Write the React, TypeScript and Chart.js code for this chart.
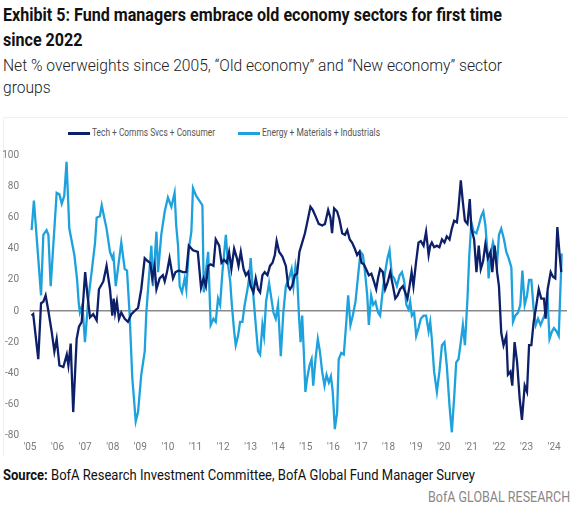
import React, { useEffect, useLayoutEffect, useRef } from "react";
import { Chart, registerables } from "chart.js";

Chart.register(...registerables);

// Months since Jan 2005 and net % overweight values
const darkMonths = [
  0.7, 1.4, 3.6, 4.8, 5.8, 6.8, 8, 9.4, 10.6, 11.6, 12.8, 14.5, 16, 16.7, 17.7, 18.8, 20.3, 21.3, 22.5, 24,
  25, 26.1, 27.5, 29, 30, 31.9, 33.3, 34.8, 35.8, 36.4, 37, 37.8, 38.7, 39.7, 41.2, 42.6, 44.1, 45.5, 47, 48.4,
  49.9, 51.3, 52.3, 53.2, 54.2, 55, 56.4, 57.8, 58.6, 59.6, 60.7, 62.2, 63.3, 64.8, 66.5, 68, 69.1, 70.9, 73, 74.4,
  75.5, 76.5, 77.5, 78.6, 79.8, 80.8, 82.3, 83.3, 84.4, 85.6, 86.6, 87.6, 88.8, 90, 90.7, 91.7, 92.9, 93.9, 94.9, 96,
  97.2, 98.2, 99.2, 100.1, 101.1, 102.1, 103.3, 104.4, 105.5, 106.5, 107.3, 108.4, 109.8, 111.3, 112.3, 113.1, 114, 115.2, 116.2, 117.2,
  118.4, 119.6, 120.6, 122, 123, 124.2, 125.6, 127.1, 128.3, 129.7, 130.7, 131.4, 132.3, 133.6, 134.6, 135.8, 137, 138, 139.1, 140.1,
  141.3, 142.3, 143.3, 144.2, 145.2, 146.2, 147.4, 148.5, 149.6, 150.6, 151.4, 152.3, 153.5, 154.5, 155.5, 156.7, 157.9, 158.9, 159.9, 161,
  162.2, 163.2, 164.2, 165.1, 166, 166.8, 167.9, 169, 170, 171.2, 172.3, 173.4, 174.1, 174.8, 175.8, 177, 178.1, 179.2, 180.3, 181.3,
  182.5, 183.5, 184.5, 185.7, 186.4, 187.4, 188.3, 189.2, 190.3, 191.3, 192, 193.2, 194.2, 195.2, 196.1, 197.1, 198.1, 199.2, 200.3, 201.1,
  202.1, 203.2, 204, 205, 206, 207.2, 207.9, 209, 209.8, 210.8, 211.9, 213, 214, 215.2, 216.2, 217.1, 218.1, 219.1, 220.3, 221.3,
  222.4, 223.6, 224.3, 225.2, 226.5, 227.5, 228.5, 229.4, 230.4, 231.1,
];
const darkValues = [
  -3, -2, -31, 5, 6, 10, 0, -13, -26, -18, -35, -36, -28, -35, -21, -65, -18, -10, -7, 25,
  10, -4, -2, -6, 14, 19, 29, 14, -3, 8, -1, 6, -5, -1, -5, -7, -2, 0, 2, 14,
  34, 32, 31, 21, 29, 14, 21, 23, 19, 25, 34, 21, 25, 26, 25, 25, 42, 39, 38, 15,
  21, 16, 29, 30, 29, 46, 42, 31, 33, 31, 38, 27, 40, 34, 29, 38, 27, 23, 25, 16,
  12, 21, 14, 12, 23, 25, 23, 29, 31, 36, 45, 38, 35, 29, 16, 14, 16, 23, 24, 38,
  44, 50, 57, 67, 65, 61, 56, 55, 56, 65, 60, 50, 66, 64, 59, 50, 49, 52, 46, 44,
  40, 36, 38, 31, 30, 27, 23, 24, 19, 14, 21, 27, 25, 14, 18, 25, 16, 8, 10, 14,
  16, 12, 8, 16, 25, 16, 31, 44, 45, 42, 51, 36, 42, 44, 41, 42, 41, 46, 44, 48,
  46, 53, 58, 57, 66, 84, 70, 58, 56, 72, 53, 46, 25, 42, 27, 32, 43, 34, 38, 25,
  42, 25, 16, -14, -22, -16, -41, -39, -48, -20, -33, -56, -70, -48, -52, -22, -22, -7, 4, 14,
  8, 8, -5, 14, 25, 22, 21, 54, 36, 25,
];

const lightMonths = [
  0.7, 1.7, 4.8, 5.8, 7.2, 8, 9, 11.6, 12.8, 13.8, 14.9, 15.9, 17.1, 19.3, 20.5, 21.2, 21.7, 22.8, 23.9, 25.4,
  26.8, 28.3, 29, 30.4, 31.2, 32.3, 33.3, 34.8, 35.8, 36.3, 37.3, 39.7, 41.2, 42.2, 43.3, 44.5, 46, 47, 48.4, 49.9,
  50.6, 51.8, 52.8, 53.5, 55, 55.7, 57.1, 58.6, 60, 61.5, 62.9, 63.6, 64.4, 65.1, 66.1, 67.3, 68, 69.1, 70.2, 70.9,
  72.3, 74.1, 75, 75.6, 76.5, 77.5, 78.6, 79.8, 80.8, 81.8, 82.7, 83.7, 85.2, 86.2, 87.1, 87.8, 88.8, 89.5, 90.5, 91.4,
  92.4, 93.4, 94.6, 95.3, 96, 96.8, 97.5, 98.2, 99.2, 100.1, 101.1, 101.8, 102.7, 104, 105, 105.9, 106.9, 107.9, 109.1, 110.2,
  111.3, 112.7, 113.8, 114.6, 115.5, 116.2, 117, 117.7, 118.4, 119.1, 119.8, 120.6, 121.6, 122.5, 123.2, 124.2, 125.2, 126.1, 127.1, 128.1,
  129, 130, 130.9, 131.7, 132.6, 133.6, 134.3, 135.4, 136.5, 137.5, 138.4, 139.4, 140.4, 141.6, 142.6, 143.8, 144.8, 145.6, 146.7, 147.4,
  148.4, 149.3, 150.3, 151.4, 152.3, 153.5, 154.5, 155.5, 156.4, 157.4, 158.4, 159.6, 160.8, 161.8, 162.8, 163.7, 164.7, 165.4, 166.1, 167.1,
  168, 169, 170, 171.2, 172.3, 173.4, 174.1, 174.8, 175.8, 177, 178.1, 179.2, 180.3, 181.3, 182.5, 183.5, 184.5, 185.4, 186.4, 187.4,
  188.3, 189.2, 190.3, 191.1, 192, 193, 194.2, 195.2, 196.3, 197.2, 198.1, 199, 199.5, 200.4, 201.4, 202.4, 203.2, 204, 205, 206.2,
  207.2, 208.2, 209.4, 210.1, 211.1, 212.3, 213.3, 214.2, 215.2, 216.2, 217.1, 218.1, 219.1, 220, 221, 222.1, 223.2, 224.2, 225, 226,
  227.1, 227.9, 229, 230, 231.3,
];
const lightValues = [
  52, 71, 10, 49, 52, 49, 16, 76, 75, 69, 74, 96, 53, 36, 20, 5, -1, 4, -20, 8,
  25, 44, 60, 61, 68, 60, 53, 38, 34, 36, 16, 44, 27, 26, -1, -43, -71, -65, -41, -26,
  -1, 23, 42, 16, 51, 25, 49, 64, 73, 67, 76, 55, 42, 16, 12, 21, 14, 40, 51, 79,
  74, 70, 68, 12, 25, 38, -9, -5, -7, 8, 4, 25, 49, 29, 19, 4, -13, -22, -16, -7,
  -7, 4, 14, 21, 34, 16, 4, -9, -26, -28, -9, -16, 6, 18, 8, -1, -5, 4, -29, -1,
  16, 21, 27, 16, 29, 23, -3, -20, -3, -26, -52, -43, -35, -31, -48, -31, -18, -26, -39, -48,
  -41, -46, -42, -52, -76, -65, -31, -27, -28, -9, 10, -9, -3, 6, 21, 38, 36, 27, 10, -9,
  10, 4, 6, -1, -3, 14, 25, 34, 39, 23, 21, 16, 23, 25, 19, 4, 1, 6, -3, -1,
  -16, -11, -5, -3, -3, -13, -7, -18, -39, -52, -39, -22, -20, -35, -61, -78, -56, -33, -31, -20,
  -9, -22, 8, 36, 57, 51, 50, 55, 61, 64, 55, 38, 21, 36, 44, 38, 31, 49, 53, 46,
  38, 34, 28, -7, -3, -1, 4, 26, 4, 10, 20, 20, 1, -9, -5, -9, -5, -1, 12, -18,
  -13, -11, -13, -16, 37,
];

const yearTicks = [0, 12, 24, 36, 48, 60, 72, 84, 96, 108, 120, 132, 144, 156, 168, 180, 192, 204, 216, 228];
const yearLabels = ["'05", "'06", "'07", "'08", "'09", "'10", "'11", "'12", "'13", "'14", "'15", "'16", "'17", "'18", "'19", "'20", "'21", "'22", "'23", "'24"];
const valueTicks = [-80, -60, -40, -20, 0, 20, 40, 60, 80, 100];

const seriesNames = ["Tech + Comms Svcs + Consumer", "Energy + Materials + Industrials"];

const DARK = "#0c1f68";
const LIGHT = "#1ea2dd";
const FONT = 'Roboto, "Liberation Sans", sans-serif';

// Text block horizontally squeezed so that its first child spans `width` px
function Fit(props: { width: number; origin?: string; style: any; children: any }) {
  const ref = useRef<HTMLDivElement>(null);
  useLayoutEffect(() => {
    const el = ref.current;
    if (!el) return;
    const first = el.firstElementChild as HTMLElement | null;
    const target = first || el;
    const w = target.getBoundingClientRect().width;
    if (w > 0) el.style.transform = `scaleX(${props.width / w})`;
  });
  return (
    <div
      ref={ref}
      style={{
        position: "absolute",
        whiteSpace: "nowrap",
        transformOrigin: props.origin || "left top",
        ...props.style,
      }}
    >
      {props.children}
    </div>
  );
}

export default function App() {
  const ref = useRef<HTMLCanvasElement>(null);

  useEffect(() => {
    if (!ref.current) return;
    const tickFont = { family: FONT, size: 10 };
    const chart = new Chart(ref.current, {
      type: "line",
      data: {
        datasets: [
          {
            label: seriesNames[0],
            data: darkMonths.map((m, i) => ({ x: m, y: darkValues[i] })),
            borderColor: DARK,
            borderWidth: 2.3,
            pointRadius: 0,
            tension: 0,
          },
          {
            label: seriesNames[1],
            data: lightMonths.map((m, i) => ({ x: m, y: lightValues[i] })),
            borderColor: LIGHT,
            borderWidth: 2.3,
            pointRadius: 0,
            tension: 0,
          },
        ],
      },
      options: {
        animation: false,
        responsive: false,
        maintainAspectRatio: false,
        layout: { padding: { left: 0, right: 10, top: 37.5, bottom: 0 } },
        plugins: { legend: { display: false }, tooltip: { enabled: false } },
        scales: {
          x: {
            type: "linear",
            min: 0,
            max: 233.6,
            afterBuildTicks: (s: any) => {
              s.ticks = yearTicks.map((v) => ({ value: v }));
            },
            afterFit: (s: any) => {
              s.height = 22.6;
            },
            ticks: {
              autoSkip: false,
              maxRotation: 0,
              padding: 6,
              color: "#7a7a7a",
              font: tickFont,
              callback: (_v: any, i: number) => yearLabels[i],
            },
            grid: { display: false, drawTicks: false },
            border: { display: false },
          },
          y: {
            min: -80,
            max: 100,
            afterBuildTicks: (s: any) => {
              s.ticks = valueTicks.map((v) => ({ value: v }));
            },
            afterFit: (s: any) => {
              s.width = 30;
            },
            ticks: { padding: 11, color: "#7a7a7a", font: tickFont },
            grid: {
              drawTicks: false,
              lineWidth: 1.5,
              color: (ctx: any) => (ctx.tick && ctx.tick.value === 0 ? "#8a8a8a" : "rgba(0,0,0,0)"),
            },
            border: { display: false },
          },
        },
      },
    });
    return () => chart.destroy();
  }, []);

  return (
    <div
      style={{
        position: "absolute",
        left: 0,
        top: 0,
        width: 577,
        height: 517,
        background: "#fff",
        overflow: "hidden",
        fontFamily: FONT,
      }}
    >
      <Fit
        width={499}
        style={{ left: 3, top: 3.3, fontSize: 17.5, lineHeight: "25px", fontWeight: 700, color: "#111" }}
      >
        <span style={{ display: "inline-block" }}>Exhibit 5: Fund managers embrace old economy sectors for first time</span>
        <div>since 2022</div>
      </Fit>
      <Fit
        width={499}
        style={{ left: 3, top: 54, fontSize: 17, lineHeight: "22px", fontWeight: 300, color: "#222" }}
      >
        <span style={{ display: "inline-block" }}>Net % overweights since 2005, “Old economy” and “New economy” sector</span>
        <div>groups</div>
      </Fit>
      <div
        style={{
          position: "absolute",
          left: 3,
          top: 117,
          width: 565,
          height: 339,
          borderTop: "1px solid #f1f1f1",
          borderLeft: "1px solid #f1f1f1",
          boxSizing: "border-box",
        }}
      />
      <span style={{ position: "absolute", left: 68, top: 131.5, width: 22, height: 3, background: DARK }} />
      <Fit width={123} style={{ left: 92, top: 126, fontSize: 11, lineHeight: "14px", color: "#555" }}>
        <span style={{ display: "inline-block" }}>{seriesNames[0]}</span>
      </Fit>
      <span style={{ position: "absolute", left: 238, top: 131.5, width: 22, height: 3, background: LIGHT }} />
      <Fit width={118} style={{ left: 262, top: 126, fontSize: 11, lineHeight: "14px", color: "#555" }}>
        <span style={{ display: "inline-block" }}>{seriesNames[1]}</span>
      </Fit>
      <canvas
        ref={ref}
        width={577}
        height={340}
        style={{ position: "absolute", left: 0, top: 118, width: 577, height: 340 }}
      />
      <Fit width={472} style={{ left: 3, top: 467, fontSize: 14.5, lineHeight: "18px", color: "#111" }}>
        <span style={{ display: "inline-block" }}>
          <b>Source:</b> BofA Research Investment Committee, BofA Global Fund Manager Survey
        </span>
      </Fit>
      <Fit
        width={142}
        origin="right top"
        style={{ right: 7, top: 487.5, fontSize: 15.5, lineHeight: "18px", color: "#888" }}
      >
        <span style={{ display: "inline-block" }}>BofA GLOBAL RESEARCH</span>
      </Fit>
    </div>
  );
}
